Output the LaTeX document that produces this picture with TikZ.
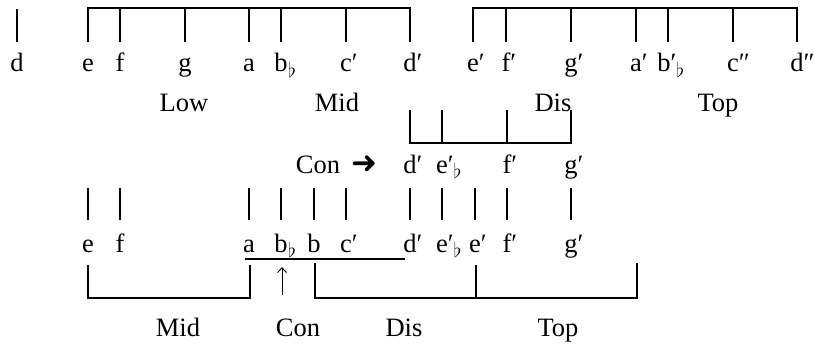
\documentclass[tikz,border=0pt]{standalone}
\usepackage{fontspec}
\usetikzlibrary{arrows.meta}
\setmainfont{Liberation Serif}
\newfontfamily\symfont{DejaVu Sans}
\newcommand{\notefont}{\fontsize{26.5}{30}\selectfont}
\newcommand{\pr}{\rlap{′}}
\newcommand{\dpr}{\rlap{″}}
\newcommand{\fl}{\rlap{\kern0.02em\raisebox{-0.45ex}{\fontsize{21}{21}\selectfont$\flat$}}}
\newcommand{\prfl}{\rlap{′\raisebox{-0.45ex}{\fontsize{21}{21}\selectfont$\flat$}}}
\begin{document}
\begin{tikzpicture}[x=1pt,y=-1pt,line width=1.3pt,
    note/.style={anchor=base,inner sep=0pt,font=\notefont},
    group/.style={anchor=base,inner sep=0pt,font=\notefont}]
\fill[white] (0,0) rectangle (815,345);
\useasboundingbox (0,0) rectangle (815,345);

% full range
\foreach \x/\n/\t in {17/d/d,88/e/e,120/f/f,185/g/g,249/a/a,281/bb/b\fl,
    346/c1/c\pr,410/d1/d\pr,473/e1/e\pr,506/f1/f\pr,571/g1/g\pr,
    636/a1/a\pr,664/bb1/b\prfl,733/c2/c\dpr,797/d2/d\dpr}
  \node[note] (top-\n) at (\x,72) {\t};
\draw (17,9) -- (17,42);
\draw (88,42) -- (88,8) -- (410,8) -- (410,42);
\draw (473,42) -- (473,8) -- (797,8) -- (797,42);
\foreach \x in {120,185,249,281,346,506,571,636,668,733}
  \draw (\x,8) -- (\x,42);
\node[group] (low) at (184,111) {Low};
\node[group] (mid) at (337,111) {Mid};
\node[group] (dis) at (553,111) {Dis};
\node[group] (top) at (718,111) {Top};

% con species
\draw (410,110) -- (410,143) -- (571,143) -- (571,110);
\foreach \x in {442,507}
  \draw (\x,110) -- (\x,143);
\node[group] (con) at (318,173) {Con};
\node[anchor=base,inner sep=0pt,font=\symfont\fontsize{31}{34}\selectfont] (arr) at (364,173) {➜};
\foreach \x/\n/\t in {410/d1/d\pr,442/eb1/e\prfl,507/f1/f\pr,571/g1/g\pr}
  \node[note] (con-\n) at (\x,173) {\t};

% lower scale
\foreach \x/\n/\t in {88/e/e,120/f/f,249/a/a,281/bb/b\fl,314/b/b,346/c1/c\pr,
    410/d1/d\pr,442/eb1/e\prfl,475/e1/e\pr,507/f1/f\pr,571/g1/g\pr}{
  \node[note] (low-\n) at (\x,252) {\t};
  \draw (\x,188) -- (\x,220);
}
\draw (245,259) -- (405,259);
\coordinate (up0) at (282,295);
\coordinate (up1) at (282,267);
\draw[line width=0.9pt,-{Straight Barb[length=5pt,width=9pt]}] (up0) -- (up1);
\draw (88,265) -- (88,298) -- (250,298) -- (250,265);
\draw (315,263) -- (315,298) -- (637,298) -- (637,263);
\draw (476,265) -- (476,298);
\node[group] (mid2) at (178,336) {Mid};
\node[group] (con2) at (298,336) {Con};
\node[group] (dis2) at (404,336) {Dis};
\node[group] (top2) at (558,336) {Top};
\end{tikzpicture}
\end{document}
